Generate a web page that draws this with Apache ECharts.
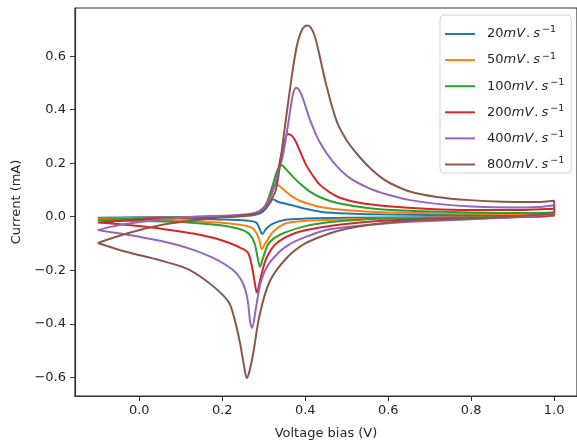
<!DOCTYPE html>
<html>
<head>
<meta charset="utf-8">
<script src="https://cdn.jsdelivr.net/npm/echarts@6/dist/echarts.min.js"></script>
<style>
html,body{margin:0;padding:0;background:#fff;}
#chart{width:577px;height:445px;}
</style>
</head>
<body>
<div id="chart"></div>
<script>
// ---- Data (voltage in V, current in mA), closed CV loops: forward scan then reverse scan ----
const scanRates = ['20', '50', '100', '200', '400', '800'];
const seriesColors = ['#1f77b4', '#ff7f0e', '#2ca02c', '#d62728', '#9467bd', '#8c564b'];

const v20 = [-0.1, 0.0, 0.1, 0.2, 0.26, 0.29, 0.305, 0.315, 0.322, 0.335, 0.36, 0.38, 0.4, 0.44, 0.5, 0.6, 0.8, 1.0,
             1.0, 0.9, 0.7, 0.5, 0.4, 0.35, 0.322, 0.306, 0.296, 0.29, 0.282, 0.258, 0.193, 0.1, 0.0, -0.1];
const i20 = [-0.004, -0.002, -0.001, 0.0, 0.003, 0.012, 0.03, 0.052, 0.065, 0.055, 0.046, 0.038, 0.03, 0.018, 0.012, 0.008, 0.006, 0.005,
             0.002, 0.0, -0.002, -0.004, -0.007, -0.012, -0.026, -0.045, -0.065, -0.045, -0.022, -0.014, -0.01, -0.007, -0.005, -0.004];

const v50 = [-0.1, 0.0, 0.1, 0.2, 0.26, 0.29, 0.305, 0.318, 0.33, 0.34, 0.36, 0.38, 0.4, 0.44, 0.5, 0.6, 0.7, 0.8, 0.9, 1.0,
             1.0, 0.9, 0.7, 0.55, 0.43, 0.37, 0.348, 0.322, 0.306, 0.295, 0.289, 0.28, 0.27, 0.242, 0.193, 0.1, 0.0, -0.1];
const i50 = [-0.008, -0.004, -0.002, 0.0, 0.004, 0.015, 0.04, 0.085, 0.122, 0.112, 0.085, 0.065, 0.052, 0.035, 0.024, 0.016, 0.013, 0.011, 0.01, 0.011,
             0.004, 0.0, -0.004, -0.008, -0.013, -0.02, -0.028, -0.057, -0.094, -0.121, -0.085, -0.055, -0.04, -0.03, -0.022, -0.015, -0.011, -0.008];

const v100 = [-0.1, 0.0, 0.1, 0.2, 0.26, 0.29, 0.305, 0.32, 0.332, 0.342, 0.355, 0.37, 0.39, 0.41, 0.44, 0.48, 0.55, 0.65, 0.8, 0.9, 1.0,
              1.0, 0.9, 0.75, 0.6, 0.54, 0.46, 0.398, 0.35, 0.325, 0.31, 0.298, 0.291, 0.285, 0.278, 0.268, 0.25, 0.22, 0.19, 0.11, 0.04, -0.1];
const i100 = [-0.012, -0.006, -0.003, 0.0, 0.005, 0.018, 0.045, 0.11, 0.17, 0.193, 0.175, 0.15, 0.12, 0.095, 0.07, 0.05, 0.033, 0.022, 0.016, 0.014, 0.016,
              0.006, 0.0, -0.004, -0.007, -0.01, -0.02, -0.036, -0.06, -0.08, -0.105, -0.155, -0.187, -0.15, -0.1, -0.07, -0.05, -0.038, -0.031, -0.021, -0.017, -0.013];

const v200 = [-0.1, 0.0, 0.1, 0.2, 0.26, 0.29, 0.31, 0.322, 0.33, 0.338, 0.348, 0.358, 0.368, 0.378, 0.39, 0.403, 0.42, 0.435, 0.46, 0.485, 0.53, 0.6, 0.7, 0.8, 0.9, 1.0,
              1.0, 0.9, 0.75, 0.6, 0.515, 0.435, 0.378, 0.33, 0.306, 0.294, 0.283, 0.278, 0.27, 0.262, 0.245, 0.225, 0.2, 0.17, 0.13, 0.09, 0.04, -0.02, -0.1];
const i200 = [-0.022, -0.01, -0.004, 0.0, 0.006, 0.02, 0.055, 0.1, 0.13, 0.2, 0.27, 0.309, 0.302, 0.278, 0.235, 0.191, 0.15, 0.12, 0.09, 0.07, 0.052, 0.039, 0.029, 0.025, 0.025, 0.03,
              0.01, -0.002, -0.008, -0.014, -0.024, -0.04, -0.06, -0.1, -0.156, -0.218, -0.283, -0.243, -0.175, -0.135, -0.117, -0.103, -0.089, -0.076, -0.063, -0.053, -0.042, -0.032, -0.022];

const v400 = [-0.1, -0.07, -0.03, 0.05, 0.13, 0.2, 0.26, 0.29, 0.31, 0.325, 0.335, 0.346, 0.358, 0.37, 0.378, 0.386, 0.395, 0.411, 0.435, 0.467, 0.507, 0.556, 0.6, 0.65, 0.717, 0.8, 0.9, 0.96, 1.0,
              1.0, 0.95, 0.85, 0.7, 0.6, 0.5, 0.45, 0.41, 0.386, 0.36, 0.338, 0.31, 0.293, 0.281, 0.272, 0.267, 0.262, 0.255, 0.245, 0.23, 0.2, 0.17, 0.13, 0.09, 0.05, 0.0, -0.05, -0.1];
const i400 = [-0.05, -0.038, -0.026, -0.01, 0.0, 0.004, 0.009, 0.022, 0.055, 0.11, 0.17, 0.228, 0.339, 0.455, 0.482, 0.472, 0.439, 0.364, 0.278, 0.205, 0.145, 0.105, 0.082, 0.063, 0.048, 0.038, 0.034, 0.036, 0.043,
              0.015, 0.003, -0.006, -0.016, -0.024, -0.038, -0.05, -0.07, -0.085, -0.105, -0.131, -0.181, -0.243, -0.342, -0.416, -0.39, -0.32, -0.27, -0.235, -0.205, -0.172, -0.148, -0.124, -0.105, -0.09, -0.075, -0.062, -0.05];

const v800 = [-0.1, -0.03, 0.05, 0.13, 0.21, 0.28, 0.3, 0.315, 0.33, 0.346, 0.362, 0.378, 0.391, 0.403, 0.413, 0.424, 0.437, 0.451, 0.475, 0.5, 0.53, 0.556, 0.58, 0.604, 0.652, 0.717, 0.797, 0.878, 0.958, 1.0,
              1.0, 0.95, 0.85, 0.75, 0.65, 0.556, 0.5, 0.46, 0.4, 0.354, 0.314, 0.29, 0.274, 0.265, 0.259, 0.252, 0.242, 0.229, 0.217, 0.193, 0.153, 0.113, 0.048, -0.032, -0.1];
const i800 = [-0.098, -0.063, -0.032, -0.014, 0.0, 0.01, 0.025, 0.055, 0.104, 0.278, 0.464, 0.625, 0.695, 0.715, 0.708, 0.67, 0.585, 0.49, 0.36, 0.285, 0.225, 0.182, 0.15, 0.126, 0.094, 0.074, 0.062, 0.056, 0.055, 0.06,
              0.02, 0.006, -0.003, -0.009, -0.015, -0.03, -0.045, -0.062, -0.1, -0.156, -0.243, -0.367, -0.516, -0.58, -0.603, -0.553, -0.466, -0.379, -0.323, -0.28, -0.23, -0.193, -0.162, -0.131, -0.098];

const voltages = [v20, v50, v100, v200, v400, v800];
const currents = [i20, i50, i100, i200, i400, i800];

const xTicks = [0.0, 0.2, 0.4, 0.6, 0.8, 1.0];
const yTicks = [-0.6, -0.4, -0.2, 0.0, 0.2, 0.4, 0.6];

// ---- Chart ----
const FONT = 'DejaVu Sans';
const TXT = '#262626';
const chart = echarts.init(document.getElementById('chart'), null, { renderer: 'canvas' });

const fmt = v => (v < 0 ? '\u2212' + Math.abs(v).toFixed(1) : v.toFixed(1));

const series = scanRates.map((r, k) => ({
  name: r + 'mV.s-1',
  type: 'line',
  data: voltages[k].map((v, j) => [v, currents[k][j]]),
  symbol: 'none',
  smooth: 0.3,
  lineStyle: { color: seriesColors[k], width: 2 },
  itemStyle: { color: seriesColors[k] },
  z: 2 + k
}));

chart.setOption({
  animation: false,
  backgroundColor: '#fff',
  grid: { left: 75, right: -1, top: 8, bottom: 45, show: true, borderColor: '#333', borderWidth: 1.2, backgroundColor: 'transparent' },
  xAxis: {
    type: 'value', min: -0.155, max: 1.055,
    name: 'Voltage bias (V)', nameLocation: 'middle', nameGap: 31,
    nameTextStyle: { fontFamily: FONT, fontSize: 13, color: TXT },
    axisLine: { show: true, onZero: false, lineStyle: { color: '#333', width: 1.2 } },
    axisTick: { show: true, inside: false, length: 5, customValues: xTicks, lineStyle: { color: '#333' } },
    axisLabel: { customValues: xTicks, margin: 8, fontFamily: FONT, fontSize: 13, color: TXT, formatter: fmt },
    splitLine: { show: false }
  },
  yAxis: {
    type: 'value', min: -0.67, max: 0.78,
    name: 'Current (mA)', nameLocation: 'middle', nameGap: 50, nameRotate: 90,
    nameTextStyle: { fontFamily: FONT, fontSize: 13, color: TXT },
    axisLine: { show: true, onZero: false, lineStyle: { color: '#333', width: 1.2 } },
    axisTick: { show: true, inside: false, length: 5, customValues: yTicks, lineStyle: { color: '#333' } },
    axisLabel: { customValues: yTicks, margin: 9, fontFamily: FONT, fontSize: 13, color: TXT, formatter: fmt },
    splitLine: { show: false }
  },
  legend: {
    orient: 'vertical',
    left: 440, top: 15,
    padding: [10, 7, 2, 5],
    icon: 'rect',
    itemWidth: 30, itemHeight: 2, itemGap: 10.6,
    backgroundColor: 'rgba(255,255,255,0.85)',
    borderColor: '#d4d4d4', borderWidth: 1, borderRadius: 4,
    data: series.map(s => s.name),
    formatter: name => '{sp|}{n|' + name.replace('mV.s-1', '') + '}{i|mV}{d|.}{i|s}{sup|\u22121}',
    textStyle: {
      fontFamily: FONT, fontSize: 13, color: TXT,
      rich: {
        sp: { width: 7, lineHeight: 18 },
        n: { fontFamily: FONT, fontSize: 13, color: TXT, lineHeight: 18 },
        d: { fontFamily: FONT, fontSize: 13, color: TXT, lineHeight: 18, padding: [0, 3, 0, 0] },
        i: { fontFamily: FONT, fontSize: 13, fontStyle: 'italic', color: TXT, lineHeight: 18, padding: [0, 1, 0, 0] },
        sup: { fontFamily: FONT, fontSize: 9.5, color: TXT, lineHeight: 9, verticalAlign: 'top', padding: [0, 0, 0, 1] }
      }
    }
  },
  series: series
});
</script>
</body>
</html>
